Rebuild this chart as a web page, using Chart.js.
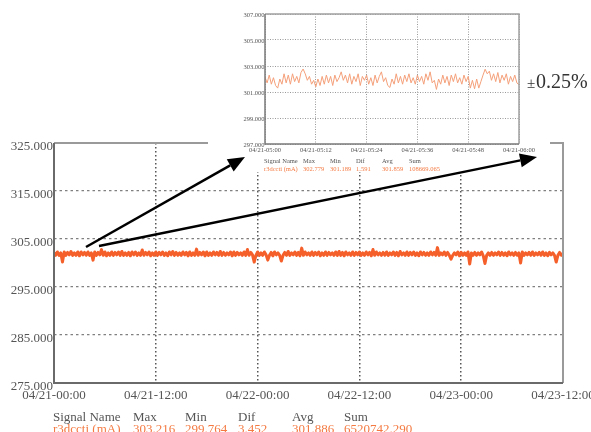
<!DOCTYPE html>
<html>
<head>
<meta charset="utf-8">
<script src="https://cdn.jsdelivr.net/npm/chart.js@4.4.1/dist/chart.umd.min.js"></script>
<style>
  body { margin: 0; background: #fff; }
  #wrap { position: relative; width: 591px; height: 432px; overflow: hidden; }
  canvas { position: absolute; left: 0; top: 0; }
  #insetChart { pointer-events: none; }
</style>
</head>
<body>
<div id="wrap">
  <canvas id="mainChart" width="591" height="432"></canvas>
  <canvas id="insetChart" width="591" height="432"></canvas>
</div>
<script>
// main chart: 04/21-00:00 .. 04/23-12:00, one sample every 12 minutes (hours)
const MAIN_X_LABELS = ["04/21-00:00", "04/21-12:00", "04/22-00:00", "04/22-12:00", "04/23-00:00", "04/23-12:00"];
const MAIN_STEP_H = 0.2;
const MAIN_VALUES = [
  302.2, 301.6, 302.3, 301.6, 302.1, 300.2, 302.3, 301.6, 302.2, 301.7, 302.4, 301.6, 302.1, 301.6, 302.3, 301.5, 302.3, 301.7, 302.2, 301.6,
  302.3, 301.6, 302.1, 300.6, 302.3, 301.6, 302.2, 301.7, 302.8, 301.6, 302.3, 301.5, 302.1, 301.6, 302.3, 301.6, 302.2, 301.7, 302.3, 301.6,
  302.4, 301.6, 302.1, 301.6, 302.2, 301.5, 302.3, 301.7, 302.3, 301.6, 302.1, 301.6, 302.7, 301.6, 302.2, 301.7, 302.3, 301.5, 302.1, 301.6,
  302.3, 301.6, 302.2, 301.7, 302.3, 301.6, 302.1, 301.5, 302.3, 301.7, 302.4, 301.6, 302.2, 301.6, 302.1, 301.6, 302.3, 301.7, 302.2, 301.5,
  302.3, 301.6, 302.1, 301.6, 302.9, 301.6, 302.2, 301.7, 302.3, 301.5, 302.3, 301.6, 302.1, 301.6, 302.3, 301.7, 302.2, 301.6, 302.4, 301.6,
  302.2, 301.6, 302.1, 301.7, 302.3, 301.5, 302.3, 301.6, 302.2, 301.7, 302.1, 301.6, 302.3, 301.6, 302.8, 301.6, 302.2, 301.7, 300.2, 301.6,
  302.3, 301.6, 302.1, 301.6, 302.3, 301.7, 300.6, 301.6, 302.2, 301.5, 302.3, 301.7, 302.1, 301.6, 300.4, 301.6, 302.2, 301.6, 302.4, 301.6,
  302.1, 301.7, 302.3, 301.6, 302.2, 301.5, 303.1, 301.6, 302.3, 301.7, 302.1, 301.6, 302.3, 301.6, 302.2, 301.7, 302.3, 301.5, 302.1, 301.6,
  302.3, 301.6, 302.2, 301.7, 302.1, 301.6, 302.3, 301.6, 302.4, 301.6, 302.2, 301.5, 302.3, 301.7, 302.1, 301.6, 302.3, 301.6, 302.2, 301.7,
  302.3, 301.6, 302.1, 301.6, 302.3, 301.7, 302.2, 301.5, 302.8, 301.6, 302.3, 301.7, 302.1, 301.6, 302.2, 301.6, 302.3, 301.6, 302.1, 301.7,
  302.3, 301.6, 302.2, 301.5, 302.4, 301.7, 302.1, 301.6, 302.3, 301.6, 302.2, 301.7, 302.3, 301.6, 302.1, 301.5, 302.3, 301.7, 302.2, 301.6,
  302.1, 301.6, 302.3, 301.7, 302.2, 301.6, 303.2, 301.6, 302.1, 301.7, 302.3, 301.6, 302.2, 301.6, 300.8, 301.6, 302.1, 301.7, 302.3, 301.5,
  302.2, 301.6, 302.1, 301.6, 302.3, 299.8, 302.1, 301.6, 302.2, 301.6, 302.1, 301.7, 302.3, 301.5, 299.9, 301.6, 302.1, 301.6, 302.2, 301.6,
  302.1, 301.7, 302.3, 301.6, 302.2, 301.6, 302.1, 301.5, 302.3, 301.7, 302.1, 301.6, 302.2, 301.6, 302.1, 300.0, 302.3, 301.6, 302.1, 301.7,
  302.2, 301.6, 302.3, 301.6, 302.1, 301.7, 302.2, 301.6, 302.3, 301.6, 302.1, 301.5, 302.2, 301.7, 302.1, 301.6, 300.2, 301.6, 302.2, 301.6,
  302.0
];
const MAIN_STATS_HEAD = ["Signal Name", "Max", "Min", "Dif", "Avg", "Sum"];
const MAIN_STATS_VALS = ["r3dccti (mA)", "303.216", "299.764", "3.452", "301.886", "6520742.290"];

// inset chart: 04/21-05:00 .. 04/21-06:00, one sample every 30 seconds (minutes)
const INSET_X_LABELS = ["04/21-05:00", "04/21-05:12", "04/21-05:24", "04/21-05:36", "04/21-05:48", "04/21-06:00"];
const INSET_STEP_MIN = 0.5;
const INSET_VALUES = [
  302.15, 301.7, 302.3, 301.6, 302.1, 301.5, 301.3, 302.0, 301.6, 302.4,
  301.7, 302.3, 301.6, 302.4, 301.8, 302.2, 301.7, 302.5, 302.77, 302.4,
  301.9, 302.2, 301.6, 301.9, 301.4, 302.0, 301.5, 302.2, 301.6, 302.3,
  301.7, 302.2, 301.5, 302.3, 301.8, 302.1, 302.55, 301.9, 302.3, 301.7,
  302.4, 301.6, 302.2, 301.8, 302.4, 301.5, 302.2, 301.9, 302.3, 301.6,
  302.1, 301.5, 302.3, 301.7, 302.2, 302.55, 301.8, 302.1, 301.5, 301.35,
  302.0, 301.6, 302.4, 301.7, 302.2, 301.6, 302.3, 301.8, 302.4, 301.7,
  302.1, 301.6, 302.3, 301.8, 302.2, 301.6, 302.4, 301.9, 302.55, 301.7,
  301.9, 301.2, 302.0, 301.6, 302.3, 301.7, 302.2, 301.5, 302.3, 301.8,
  302.4, 301.7, 302.1, 301.6, 302.3, 301.8, 302.2, 301.3, 301.9, 301.25,
  302.0, 301.3, 301.8, 302.3, 302.75, 302.4, 302.6, 301.9, 302.4, 301.8,
  302.5, 301.7, 302.3, 301.9, 302.4, 301.6, 302.2, 301.8, 302.3, 301.7,
  301.55
];
const INSET_STATS_VALS = ["r3dccti (mA)", "302.779", "301.189", "1.591", "301.859", "108669.065"];
const INSET_NOTE = "0.25%";

const SERIF = "'Liberation Serif', 'Times New Roman', serif";
const LINE_ORANGE = "#f45f2a";
const TEXT_ORANGE = "#f47a42";

// two rows of statistics under a chart
function drawStats(ctx, cols, y1, y2, size, vals) {
  ctx.save();
  ctx.font = size + "px " + SERIF;
  ctx.textAlign = "left";
  ctx.textBaseline = "alphabetic";
  MAIN_STATS_HEAD.forEach((h, i) => {
    ctx.fillStyle = "#555";
    ctx.fillText(h, cols[i], y1);
    ctx.fillStyle = TEXT_ORANGE;
    ctx.fillText(vals[i], cols[i], y2);
  });
  ctx.restore();
}

function drawFrame(ctx, a, w, sideColor, axisColor) {
  ctx.save();
  ctx.lineWidth = w;
  ctx.strokeStyle = sideColor;
  ctx.beginPath();
  ctx.moveTo(a.left, a.top);
  ctx.lineTo(a.right, a.top);
  ctx.lineTo(a.right, a.bottom);
  ctx.stroke();
  ctx.strokeStyle = axisColor;
  ctx.beginPath();
  ctx.moveTo(a.left, a.top);
  ctx.lineTo(a.left, a.bottom);
  ctx.lineTo(a.right, a.bottom);
  ctx.stroke();
  ctx.restore();
}

function drawArrow(ctx, x1, y1, x2, y2) {
  const ang = Math.atan2(y2 - y1, x2 - x1);
  const len = 17, half = 7;
  const bx = x2 - len * Math.cos(ang), by = y2 - len * Math.sin(ang);
  ctx.save();
  ctx.strokeStyle = "#000";
  ctx.fillStyle = "#000";
  ctx.lineWidth = 2.5;
  ctx.beginPath();
  ctx.moveTo(x1, y1);
  ctx.lineTo(bx, by);
  ctx.stroke();
  ctx.beginPath();
  ctx.moveTo(x2, y2);
  ctx.lineTo(bx + half * Math.sin(ang), by - half * Math.cos(ang));
  ctx.lineTo(bx - half * Math.sin(ang), by + half * Math.cos(ang));
  ctx.closePath();
  ctx.fill();
  ctx.restore();
}

const mainExtras = {
  id: "mainExtras",
  afterDraw(chart) {
    const ctx = chart.ctx;
    const a = chart.chartArea;
    drawFrame(ctx, a, 2, "#9a9a9a", "#6a6a6a");
    const l = a.left - 1;
    drawStats(ctx, [l, l + 80, l + 132, l + 185, l + 239, l + 291], 421, 433, 13, MAIN_STATS_VALS);
  }
};

const insetExtras = {
  id: "insetExtras",
  beforeDraw(chart) {
    const ctx = chart.ctx;
    ctx.save();
    ctx.fillStyle = "#fff";
    ctx.fillRect(208, 0, 342, 172);
    ctx.restore();
  },
  afterDraw(chart) {
    const ctx = chart.ctx;
    const a = chart.chartArea;
    drawFrame(ctx, a, 1.5, "#a0a0a0", "#7a7a7a");
    const l = a.left - 1;
    drawStats(ctx, [l, l + 39, l + 66, l + 92, l + 118, l + 145], 163, 171, 6.5, INSET_STATS_VALS);
    // ± note
    ctx.save();
    ctx.fillStyle = "#333";
    ctx.textBaseline = "alphabetic";
    ctx.font = "15px " + SERIF;
    ctx.fillText("\u00b1", 527, 88);
    ctx.font = "20px " + SERIF;
    ctx.fillText(INSET_NOTE, 536, 88);
    ctx.restore();
    // arrows
    drawArrow(ctx, 86, 247, 245, 157);
    drawArrow(ctx, 99, 246, 537, 157);
  }
};

Chart.defaults.font.family = SERIF;
Chart.defaults.animation = false;

new Chart(document.getElementById("mainChart").getContext("2d"), {
  type: "line",
  data: {
    datasets: [{
      data: MAIN_VALUES.map((v, i) => ({ x: i * MAIN_STEP_H, y: v })),
      borderColor: LINE_ORANGE,
      borderWidth: 3,
      borderJoinStyle: "round",
      pointRadius: 0,
      tension: 0,
      fill: false
    }]
  },
  options: {
    responsive: false,
    devicePixelRatio: 1,
    events: [],
    layout: { padding: { left: 0, top: 143, right: 28, bottom: 29 } },
    plugins: { legend: { display: false }, tooltip: { enabled: false } },
    scales: {
      x: {
        type: "linear",
        min: 0,
        max: 60,
        border: { display: false, dash: [1.5, 2.5] },
        grid: { color: "#555", lineWidth: 1.5, drawTicks: false },
        ticks: {
          stepSize: 12,
          padding: 5,
          maxRotation: 0,
          autoSkip: false,
          color: "#555",
          font: { size: 13, family: SERIF },
          callback: (v, i) => MAIN_X_LABELS[i]
        },
        afterFit: (s) => { s.height = 20; s.paddingLeft = 0; s.paddingRight = 0; }
      },
      y: {
        min: 275,
        max: 325,
        border: { display: false, dash: [2.5, 3] },
        grid: { color: "#808080", lineWidth: 1.2, drawTicks: false },
        ticks: {
          stepSize: 10,
          padding: 1,
          labelOffset: 3.5,
          color: "#555",
          font: { size: 13, family: SERIF },
          callback: (v) => v.toFixed(3)
        },
        afterFit: (s) => { s.width = 54; }
      }
    }
  },
  plugins: [mainExtras]
});

new Chart(document.getElementById("insetChart").getContext("2d"), {
  type: "line",
  data: {
    datasets: [{
      data: INSET_VALUES.map((v, i) => ({ x: i * INSET_STEP_MIN, y: v })),
      borderColor: "#f5a07a",
      borderWidth: 1,
      pointRadius: 0,
      tension: 0,
      fill: false
    }]
  },
  options: {
    responsive: false,
    devicePixelRatio: 1,
    events: [],
    layout: { padding: { left: 235, top: 14, right: 72, bottom: 278 } },
    plugins: { legend: { display: false }, tooltip: { enabled: false } },
    scales: {
      x: {
        type: "linear",
        min: 0,
        max: 60,
        border: { display: false, dash: [1, 1.5] },
        grid: { color: "#999", lineWidth: 1, drawTicks: false },
        ticks: {
          stepSize: 12,
          padding: 2,
          maxRotation: 0,
          autoSkip: false,
          color: "#555",
          font: { size: 6.5, family: SERIF },
          callback: (v, i) => INSET_X_LABELS[i]
        },
        afterFit: (s) => { s.height = 10; s.paddingLeft = 0; s.paddingRight = 0; }
      },
      y: {
        min: 297,
        max: 307,
        border: { display: false, dash: [1, 1.5] },
        grid: { color: "#999", lineWidth: 1, drawTicks: false },
        ticks: {
          stepSize: 2,
          padding: 0.5,
          labelOffset: 1,
          color: "#555",
          font: { size: 6.5, family: SERIF },
          callback: (v) => v.toFixed(3)
        },
        afterFit: (s) => { s.width = 30; }
      }
    }
  },
  plugins: [insetExtras]
});
</script>
</body>
</html>
